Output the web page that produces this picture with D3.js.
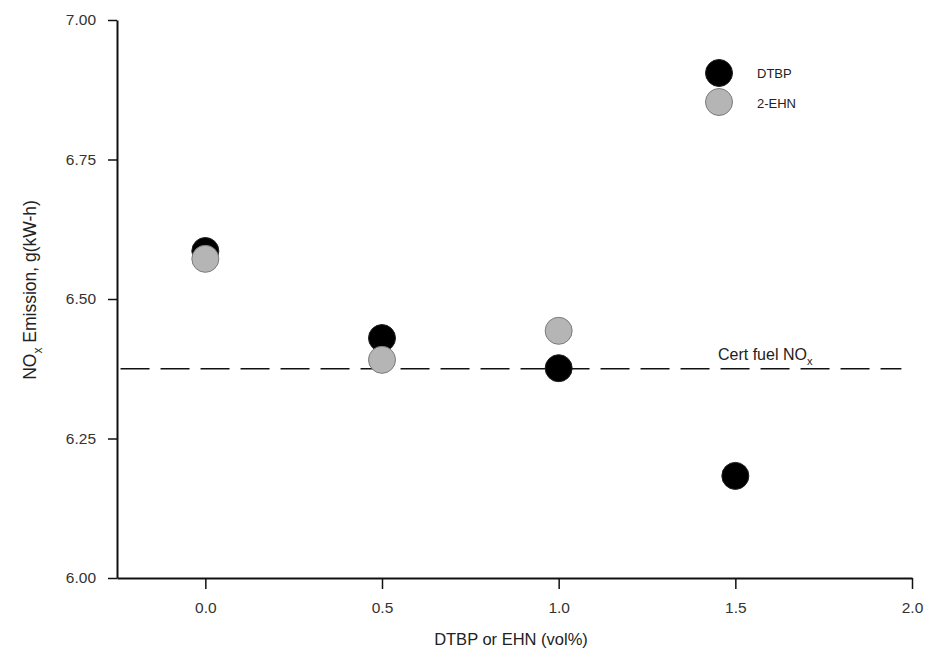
<!DOCTYPE html>
<html><head><meta charset="utf-8">
<script src="https://cdn.jsdelivr.net/npm/d3@7"></script>
<style>body{margin:0;background:#fff}svg{display:block}text{font-family:"Liberation Sans",Arial,sans-serif}</style>
</head><body>
<svg id="c" width="933" height="657"></svg>
<script>
const xValues = [0.0, 0.5, 1.0, 1.5];
const dtbp = [6.586, 6.430, 6.376, 6.183];
const ehn = [6.572, 6.391, 6.443];
const xTicks = [0.0, 0.5, 1.0, 1.5, 2.0];
const yTicks = [6.00, 6.25, 6.50, 6.75, 7.00];
const certNOx = 6.375;
const seriesNames = ["DTBP", "2-EHN"];

const svg = d3.select("#c");
const x = d3.scaleLinear().domain([-0.25, 2.0]).range([117, 912]);
const y = d3.scaleLinear().domain([6.0, 7.0]).range([578, 20]);

// axes
const xAxis = svg.append("g").attr("transform", "translate(0,578)")
  .call(d3.axisBottom(x).tickValues(xTicks).tickFormat(d3.format(".1f")).tickSize(11).tickSizeOuter(0));
const yAxis = svg.append("g").attr("transform", "translate(117,0)")
  .call(d3.axisLeft(y).tickValues(yTicks).tickFormat(d3.format(".2f")).tickSize(9).tickSizeOuter(0));
[xAxis, yAxis].forEach(g => {
  g.select(".domain").attr("stroke", "#111").attr("stroke-width", 2);
  g.selectAll(".tick line").attr("stroke", "#111").attr("stroke-width", 1.5);
  g.selectAll("text").attr("font-size", 15.5).attr("fill", "#333").attr("font-family", "Liberation Sans, Arial, sans-serif");
});
xAxis.selectAll("text").attr("dy", "1.35em");
yAxis.selectAll("text").attr("x", -21);

// reference line
svg.append("line")
  .attr("x1", x(-0.24)).attr("x2", x(1.97))
  .attr("y1", y(certNOx)).attr("y2", y(certNOx))
  .attr("stroke", "#111").attr("stroke-width", 1.6)
  .attr("stroke-dasharray", "29,11");

const lbl = svg.append("text").attr("x", 718).attr("y", 360).attr("font-size", 16).attr("fill", "#222");
lbl.append("tspan").text("Cert fuel NO");
lbl.append("tspan").attr("font-size", 11).attr("dy", 5).text("x");

// points
svg.append("g").selectAll("circle").data(dtbp).join("circle")
  .attr("cx", (d, i) => x(xValues[i])).attr("cy", d => y(d)).attr("r", 13.5)
  .attr("fill", "#000").attr("stroke", "#222").attr("stroke-width", 1);
svg.append("g").selectAll("circle").data(ehn).join("circle")
  .attr("cx", (d, i) => x(xValues[i])).attr("cy", d => y(d)).attr("r", 13.5)
  .attr("fill", "#b5b5b5").attr("stroke", "#7a7a7a").attr("stroke-width", 1);

// legend
const lg = svg.append("g");
const legColors = [["#000", "#222"], ["#b5b5b5", "#7a7a7a"]];
seriesNames.forEach((n, i) => {
  lg.append("circle").attr("cx", 719).attr("cy", 73 + i * 29).attr("r", 13.5)
    .attr("fill", legColors[i][0]).attr("stroke", legColors[i][1]);
  lg.append("text").attr("x", 757).attr("y", 78 + i * 30).attr("font-size", 13).attr("fill", "#222").text(n);
});

// axis titles
const yl = svg.append("text").attr("transform", "translate(36,290) rotate(-90)")
  .attr("text-anchor", "middle").attr("font-size", 17.5).attr("fill", "#222");
yl.append("tspan").text("NO");
yl.append("tspan").attr("font-size", 12).attr("dy", 6).text("x");
yl.append("tspan").attr("dy", -6).text(" Emission, g(kW-h)");

svg.append("text").attr("x", 511).attr("y", 645).attr("text-anchor", "middle")
  .attr("font-size", 16.5).attr("fill", "#222").text("DTBP or EHN (vol%)");
</script>
</body></html>
